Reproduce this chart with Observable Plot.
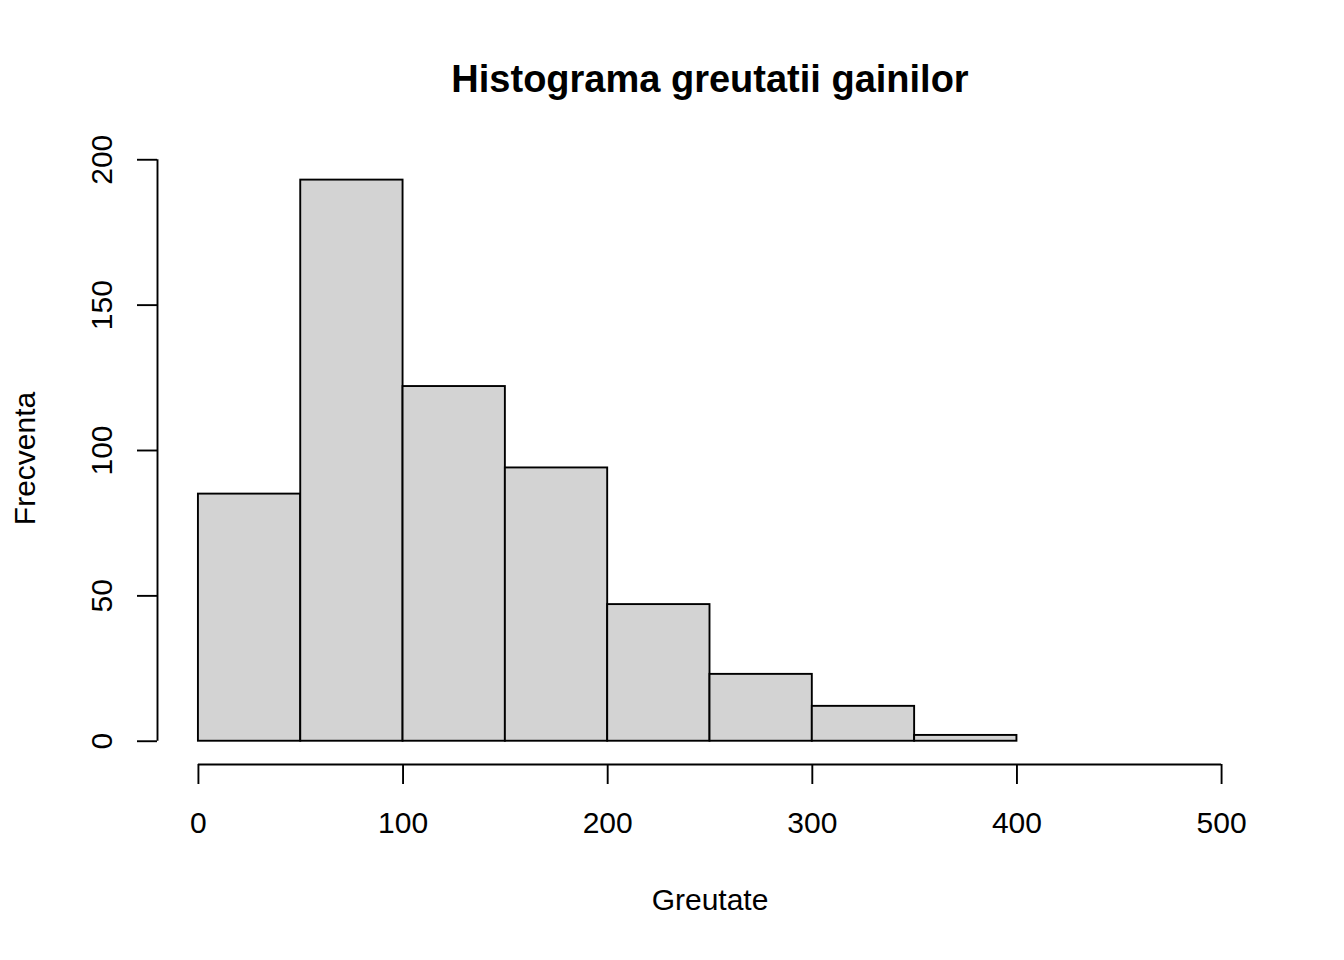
<!DOCTYPE html>
<html>
<head>
<meta charset="utf-8">
<script src="https://cdn.jsdelivr.net/npm/d3@7"></script>
<script src="https://cdn.jsdelivr.net/npm/@observablehq/plot@0.6"></script>
<style>
  html, body { margin: 0; padding: 0; background: #fff; }
  #chart svg { display: block; }
</style>
</head>
<body>
<div id="chart"></div>
<script>
// Histogram data (ChickWeight weights)
const binStarts = [0, 50, 100, 150, 200, 250, 300, 350];
const binEnds   = [50, 100, 150, 200, 250, 300, 350, 400];
const counts    = [85, 193, 122, 94, 47, 23, 12, 2];

const xTicks = [0, 100, 200, 300, 400, 500];
const yTicks = [0, 50, 100, 150, 200];

const title = "Histograma greutatii gainilor";
const xLabel = "Greutate";
const yLabel = "Frecventa";

const xDomain = [-20, 520];
const yDomain = [-8, 208];

const bins = binStarts.map((s, i) => ({x1: s, x2: binEnds[i], count: counts[i]}));

const lw = 1.9;
const font = "'Liberation Sans', Arial, Helvetica, sans-serif";

const chart = Plot.plot({
  width: 1344,
  height: 960,
  marginLeft: 157,
  marginRight: 82,
  marginTop: 136,
  marginBottom: 196,
  style: {fontFamily: font, fontSize: "30px", color: "black", background: "white"},
  x: {domain: xDomain, axis: null},
  y: {domain: yDomain, axis: null},
  marks: [
    Plot.rectY(bins, {x1: "x1", x2: "x2", y: "count", fill: "#d3d3d3", stroke: "black", strokeWidth: lw}),
    // x axis line and ticks
    Plot.ruleY([yDomain[0]], {x1: xTicks[0], x2: xTicks[xTicks.length - 1], stroke: "black", strokeWidth: lw}),
    Plot.axisX({ticks: xTicks, tickSize: 20, tickPadding: 27, fontSize: 30, label: null, strokeWidth: lw, tickFormat: d => String(d)}),
    // y axis line and ticks
    Plot.ruleX([xDomain[0]], {y1: yTicks[0], y2: yTicks[yTicks.length - 1], stroke: "black", strokeWidth: lw}),
    Plot.axisY({ticks: yTicks, tickSize: 20, label: null, strokeWidth: lw, tickFormat: () => ""}),
    Plot.text(yTicks, {y: d => d, text: d => String(d), frameAnchor: "left", dx: -46, rotate: -90, lineAnchor: "bottom", textAnchor: "middle", fontSize: 30, fill: "black"}),
    // labels
    Plot.text([title], {text: d => d, frameAnchor: "top", dy: -45, lineAnchor: "bottom", textAnchor: "middle", fontSize: 38, fontWeight: "bold", fill: "black"}),
    Plot.text([xLabel], {text: d => d, frameAnchor: "bottom", dy: 145, lineAnchor: "bottom", textAnchor: "middle", fontSize: 30, fill: "black"}),
    Plot.text([yLabel], {text: d => d, frameAnchor: "left", dx: -123, dy: 8, rotate: -90, lineAnchor: "bottom", textAnchor: "middle", fontSize: 30, fill: "black"})
  ]
});
document.getElementById("chart").appendChild(chart);
</script>
</body>
</html>
